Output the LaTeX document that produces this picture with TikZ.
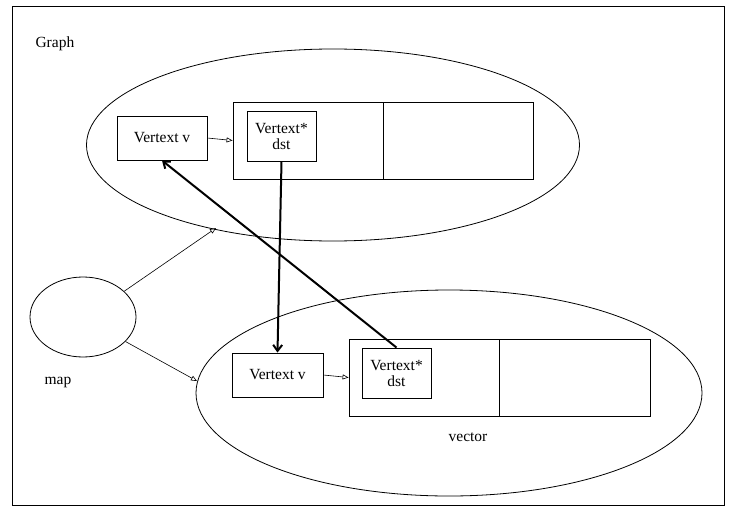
\documentclass[tikz,border=0pt]{standalone}
\usepackage{fontspec}
\setmainfont{Liberation Serif}
\usetikzlibrary{arrows.meta,shapes.geometric}
\begin{document}
\begin{tikzpicture}[x=1pt,y=-1pt,
  every node/.style={font=\fontsize{15.5}{16}\selectfont},
  vbox/.style={draw,line width=0.9pt,inner sep=0pt,align=center},
  cell/.style={draw,line width=0.9pt,inner sep=0pt,minimum width=150pt,minimum height=77pt},
  blob/.style={draw,ellipse,line width=0.8pt,inner sep=0pt},
  thin arrow/.style={-{Triangle[open,length=6pt,width=5pt]},line width=0.6pt},
  thick arrow/.style={-{Straight Barb[length=6pt,width=9pt]},line width=2pt}]
\useasboundingbox (0,0) rectangle (730,511);
% frame
\node[draw,line width=0.9pt,minimum width=712pt,minimum height=499pt,inner sep=0pt] (frame) at (368,255.5) {};
\node[anchor=west] (graphlbl) at (32,44) {Graph};
% graph ellipse
\node[blob,minimum width=493pt,minimum height=192pt] (gell) at (333,145) {};
\node[vbox,minimum width=90pt,minimum height=44pt] (gv) at (162,138) {Vertext v};
\node[cell] (gc1) at (308,140.5) {};
\node[cell] (gc2) at (458,140.5) {};
\node[vbox,minimum width=69pt,minimum height=50pt] (gd) at (281.5,136) {Vertext*\\dst};
% map
\node[blob,minimum width=106pt,minimum height=80pt] (map) at (83,317) {};
\node (maplbl) at (58,382) {map};
% vector ellipse
\node[blob,minimum width=506pt,minimum height=206pt] (vell) at (449,393) {};
\node[vbox,minimum width=91pt,minimum height=44pt] (vv) at (277.5,375) {Vertext v};
\node[cell] (vc1) at (424,377.5) {};
\node[cell,minimum width=151pt] (vc2) at (574.5,377.5) {};
\node[vbox,minimum width=69pt,minimum height=50pt] (vd) at (396.5,373) {Vertext*\\dst};
\node (veclbl) at (468,437) {vector};
% connectors
\coordinate (gtip) at (216,228);
\coordinate (vtip) at (197,381);
\draw[thin arrow] (gv.east) -- (gc1.west);
\draw[thin arrow] (vv.east) -- (vc1.west);
\draw[thin arrow] (map.32) -- (gtip);
\draw[thin arrow] (map.-30) -- (vtip);
\draw[thick arrow] (gd.south) -- (vv.north);
\draw[thick arrow] (vd.north) -- (gv.south);
\end{tikzpicture}
\end{document}
